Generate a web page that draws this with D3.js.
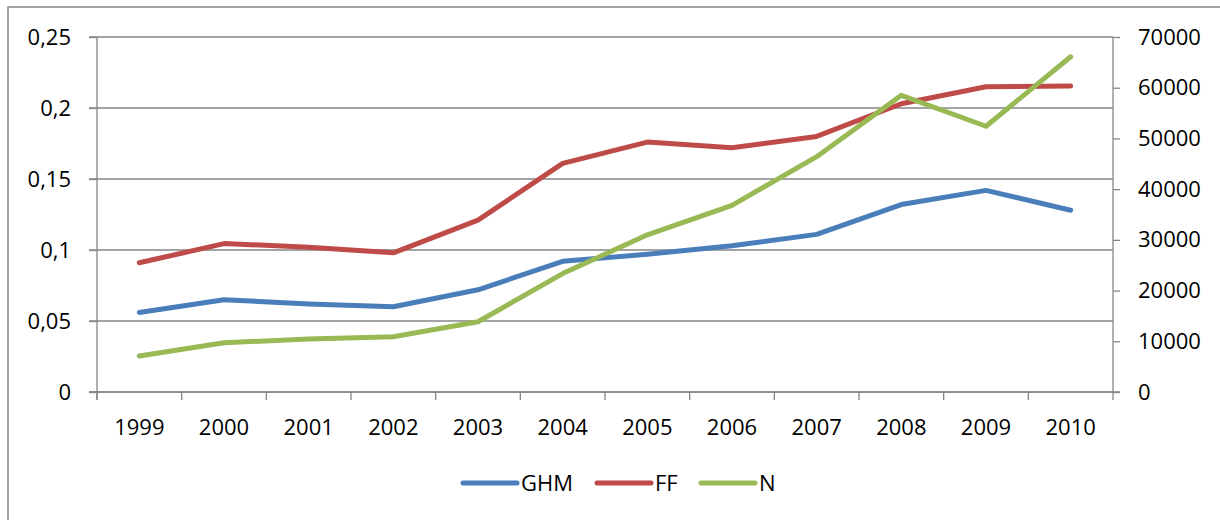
<!DOCTYPE html>
<html>
<head>
<meta charset="utf-8">
<script src="https://cdn.jsdelivr.net/npm/d3@7"></script>
<style>
  html, body { margin: 0; padding: 0; background: #fff; }
  svg { display: block; }
  text { font-family: "Open Sans", "DejaVu Sans", sans-serif; fill: #000; }
</style>
</head>
<body>
<svg id="chart" width="1220" height="520"></svg>
<script>
const years = ["1999","2000","2001","2002","2003","2004","2005","2006","2007","2008","2009","2010"];
const ghm = [0.056, 0.065, 0.062, 0.060, 0.072, 0.092, 0.097, 0.103, 0.111, 0.132, 0.142, 0.128];
const ff  = [0.091, 0.1045, 0.102, 0.098, 0.121, 0.161, 0.176, 0.172, 0.180, 0.203, 0.215, 0.2155];
const nVals = [7100, 9700, 10450, 10900, 13850, 23350, 31000, 36800, 46400, 58500, 52400, 66100];
const leftTicks = [0, 0.05, 0.1, 0.15, 0.2, 0.25];
const rightTicks = [0, 10000, 20000, 30000, 40000, 50000, 60000, 70000];
const seriesNames = ["GHM", "FF", "N"];
const colors = ["#4A7EBB", "#BE4B48", "#98B954"];

const svg = d3.select("#chart");
const L = 97, R = 1113, T = 37, B = 392;
const gray = "#868686";
const fs = "22px";

// outer frame
svg.append("rect").attr("x", 8).attr("y", 7).attr("width", 1230).attr("height", 530)
  .attr("fill", "none").attr("stroke", gray).attr("stroke-width", 1.5);

const x = d3.scaleBand().domain(years).range([L, R]).padding(0);
const yL = d3.scaleLinear().domain([0, 0.25]).range([B, T]);
const yR = d3.scaleLinear().domain([0, 70000]).range([B, T]);

// gridlines
svg.append("g").selectAll("line").data(leftTicks).join("line")
  .attr("x1", L - 8).attr("x2", R).attr("y1", d => yL(d)).attr("y2", d => yL(d))
  .attr("stroke", gray).attr("stroke-width", 1.3);

const fmtL = d => String(d).replace(".", ",");

// left axis
const gL = svg.append("g").attr("transform", `translate(${L},0)`)
  .call(d3.axisLeft(yL).tickValues(leftTicks).tickFormat(fmtL).tickSize(8).tickPadding(18));
gL.select(".domain").attr("d", `M0,${T}V${B + 8}`);
// right axis
const gR = svg.append("g").attr("transform", `translate(${R},0)`)
  .call(d3.axisRight(yR).tickValues(rightTicks).tickFormat(d3.format("d")).tickSize(7).tickPadding(18));
gR.select(".domain").attr("d", `M0,${T}V${B + 8}`);
// bottom axis (ticks at category boundaries)
const gB = svg.append("g").attr("transform", `translate(0,${B})`);
gB.append("g").call(d3.axisBottom(x).tickSize(0).tickPadding(27))
  .select(".domain").remove();
gB.selectAll(".bt").data(years).join("line").attr("class", "bt")
  .attr("x1", d => x(d)).attr("x2", d => x(d)).attr("y1", 0).attr("y2", 8)
  .attr("stroke", gray).attr("stroke-width", 1.3);
gB.append("line").attr("x1", L - 8).attr("x2", R + 7).attr("y1", 0).attr("y2", 0)
  .attr("stroke", gray).attr("stroke-width", 1.3);

[gL, gR].forEach(g => {
  g.selectAll(".domain").attr("stroke", gray).attr("stroke-width", 1.3);
  g.selectAll(".tick line").attr("stroke", gray).attr("stroke-width", 1.3);
});
svg.selectAll(".tick text").style("font-size", fs).style("font-family", '"Open Sans", sans-serif').attr("fill", "#000");

const cx = d => x(d) + x.bandwidth() / 2;
const lineL = d3.line().x((d, i) => cx(years[i])).y(d => yL(d));
const lineR = d3.line().x((d, i) => cx(years[i])).y(d => yR(d));

const data = [
  { vals: ghm, gen: lineL },
  { vals: ff, gen: lineL },
  { vals: nVals, gen: lineR }
];
data.forEach((s, k) => {
  svg.append("path").attr("d", s.gen(s.vals)).attr("fill", "none")
    .attr("stroke", colors[k]).attr("stroke-width", 5)
    .attr("stroke-linejoin", "round").attr("stroke-linecap", "round");
});

// legend
const legX = [463, 597, 701];
const legY = 483;
seriesNames.forEach((n, k) => {
  svg.append("line").attr("x1", legX[k]).attr("x2", legX[k] + 54)
    .attr("y1", legY).attr("y2", legY).attr("stroke", colors[k])
    .attr("stroke-width", 5).attr("stroke-linecap", "round");
  svg.append("text").attr("x", legX[k] + 58).attr("y", legY).attr("dy", "0.35em")
    .style("font-size", fs).text(n);
});
</script>
</body>
</html>
